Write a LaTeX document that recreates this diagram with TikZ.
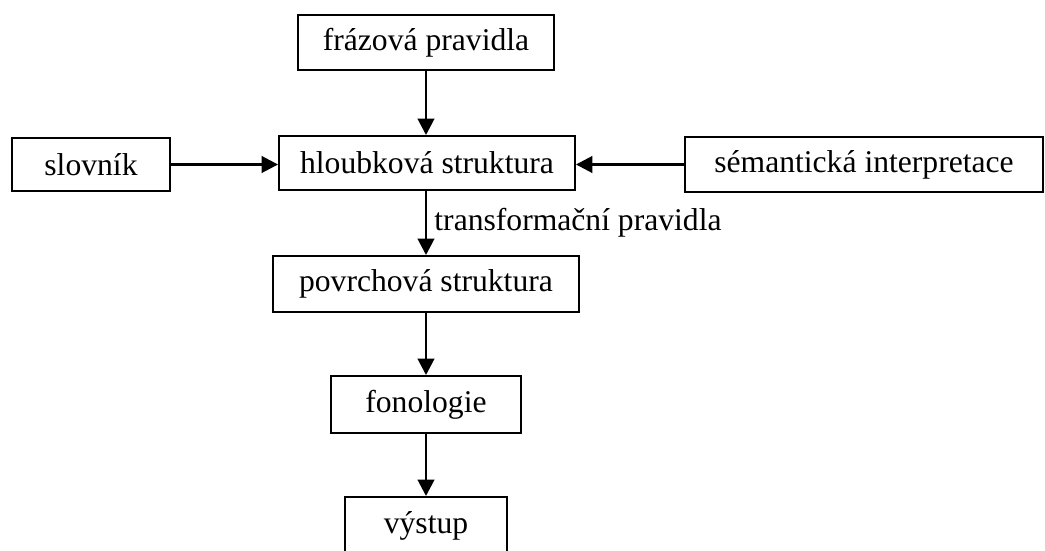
\documentclass[tikz,border=0pt]{standalone}
\usepackage{fontspec}
\setmainfont{Liberation Serif}
\usetikzlibrary{arrows.meta}
\begin{document}
\begin{tikzpicture}[x=0.02cm, y=-0.02cm,
		box/.style={draw, line width=1.1pt, font=\fontsize{18}{22}\selectfont, inner sep=0pt, minimum height=1.1cm},
		link/.style={line width=1.6pt, -{Triangle[length=0.33cm, width=0.33cm]}}]
			\useasboundingbox (0,0) rectangle (1045,551);
			
			\node[box, minimum width=5.12cm] (fraz) at (426,42.5) {frázová pravidla};
			\node[box, minimum width=5.92cm, minimum height=1.08cm] (hloub) at (427,163) {hloubková struktura};
			\node[box, minimum width=3.16cm, minimum height=1.06cm] (slov) at (91,164.5) {slovník};
			\node[box, minimum width=7.16cm] (sem) at (864,164.5) {sémantická interpretace};
			\node[box, minimum width=6.12cm, minimum height=1.12cm] (povrch) at (426,284) {povrchová struktura};
			\node[box, minimum width=3.8cm, minimum height=1.14cm] (fono) at (426,404.5) {fonologie};
			\node[box, minimum width=3.24cm, minimum height=1.16cm] (vystup) at (426,526) {výstup};
			
			\draw[link] (fraz) -- (hloub.north -| fraz);
			\draw[link] (slov) -- (hloub.west |- slov);
			\draw[link] (sem) -- (hloub.east |- sem);
			\draw[link] (hloub.south -| povrch) -- (povrch)
				node[midway, right, inner sep=4pt, font=\fontsize{18}{22}\selectfont] (trans) {transformační pravidla};
			\draw[link] (povrch) -- (fono);
			\draw[link] (fono) -- (vystup);
		\end{tikzpicture}
\end{document}
